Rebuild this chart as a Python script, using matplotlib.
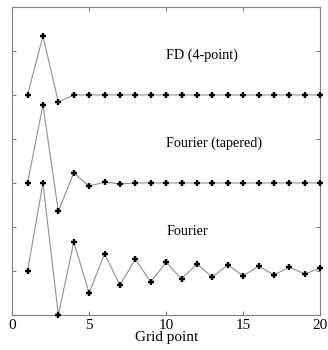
import matplotlib
matplotlib.use("Agg")
import matplotlib.pyplot as plt

plt.rcParams['font.family'] = ['Liberation Serif', 'DejaVu Serif']

grid = list(range(1, 21))

# offsets are added to the baseline of each curve
fd_base = 5
fd_vals = [0, 1.34, -0.16, 0, 0, 0, 0, 0, 0, 0, 0, 0, 0, 0, 0, 0, 0, 0, 0, 0]

tap_base = 3
tap_vals = [0, 1.77, -0.64, 0.23, -0.07, 0.02, -0.02, 0, 0, 0, 0, 0, 0, 0, 0, 0, 0, 0, 0, 0]

four_base = 1
four_vals = [0, 2.0, -1.0, 0.66, -0.5, 0.39, -0.32, 0.27, -0.25, 0.2,
             -0.18, 0.16, -0.14, 0.14, -0.11, 0.11, -0.09, 0.09, -0.07, 0.07]

labels = ['FD (4-point)', 'Fourier (tapered)', 'Fourier']

fig = plt.figure(figsize=(3.28, 3.5), dpi=100)
ax = fig.add_axes([0.037, 0.1, 0.939, 0.88])

curves = [(fd_base, fd_vals), (tap_base, tap_vals), (four_base, four_vals)]
for (base, vals), lab in zip(curves, labels):
    y = [base + v for v in vals]
    ax.plot(grid, y, color='#909090', linewidth=0.8, zorder=2)
    ax.plot(grid, y, linestyle='none', marker='+', color='black',
            markersize=4.5, markeredgewidth=1.7, zorder=3, clip_on=False)
    ax.text(10, base + 0.9, lab, fontsize=10.2, ha='left', va='center')

ax.set_xlim(0, 20)
ax.set_ylim(0, 7)
ax.set_xticks([0, 5, 10, 15, 20])
ax.set_yticks(range(0, 8))
ax.set_yticklabels([])
ax.tick_params(direction='in', top=True, right=True, length=3,
               color='#808080', labelsize=11, pad=3)
for s in ax.spines.values():
    s.set_color('#808080')
    s.set_linewidth(0.8)
ax.set_xlabel('Grid point', fontsize=11, labelpad=-1)

fig.savefig('out.png', dpi=100)
